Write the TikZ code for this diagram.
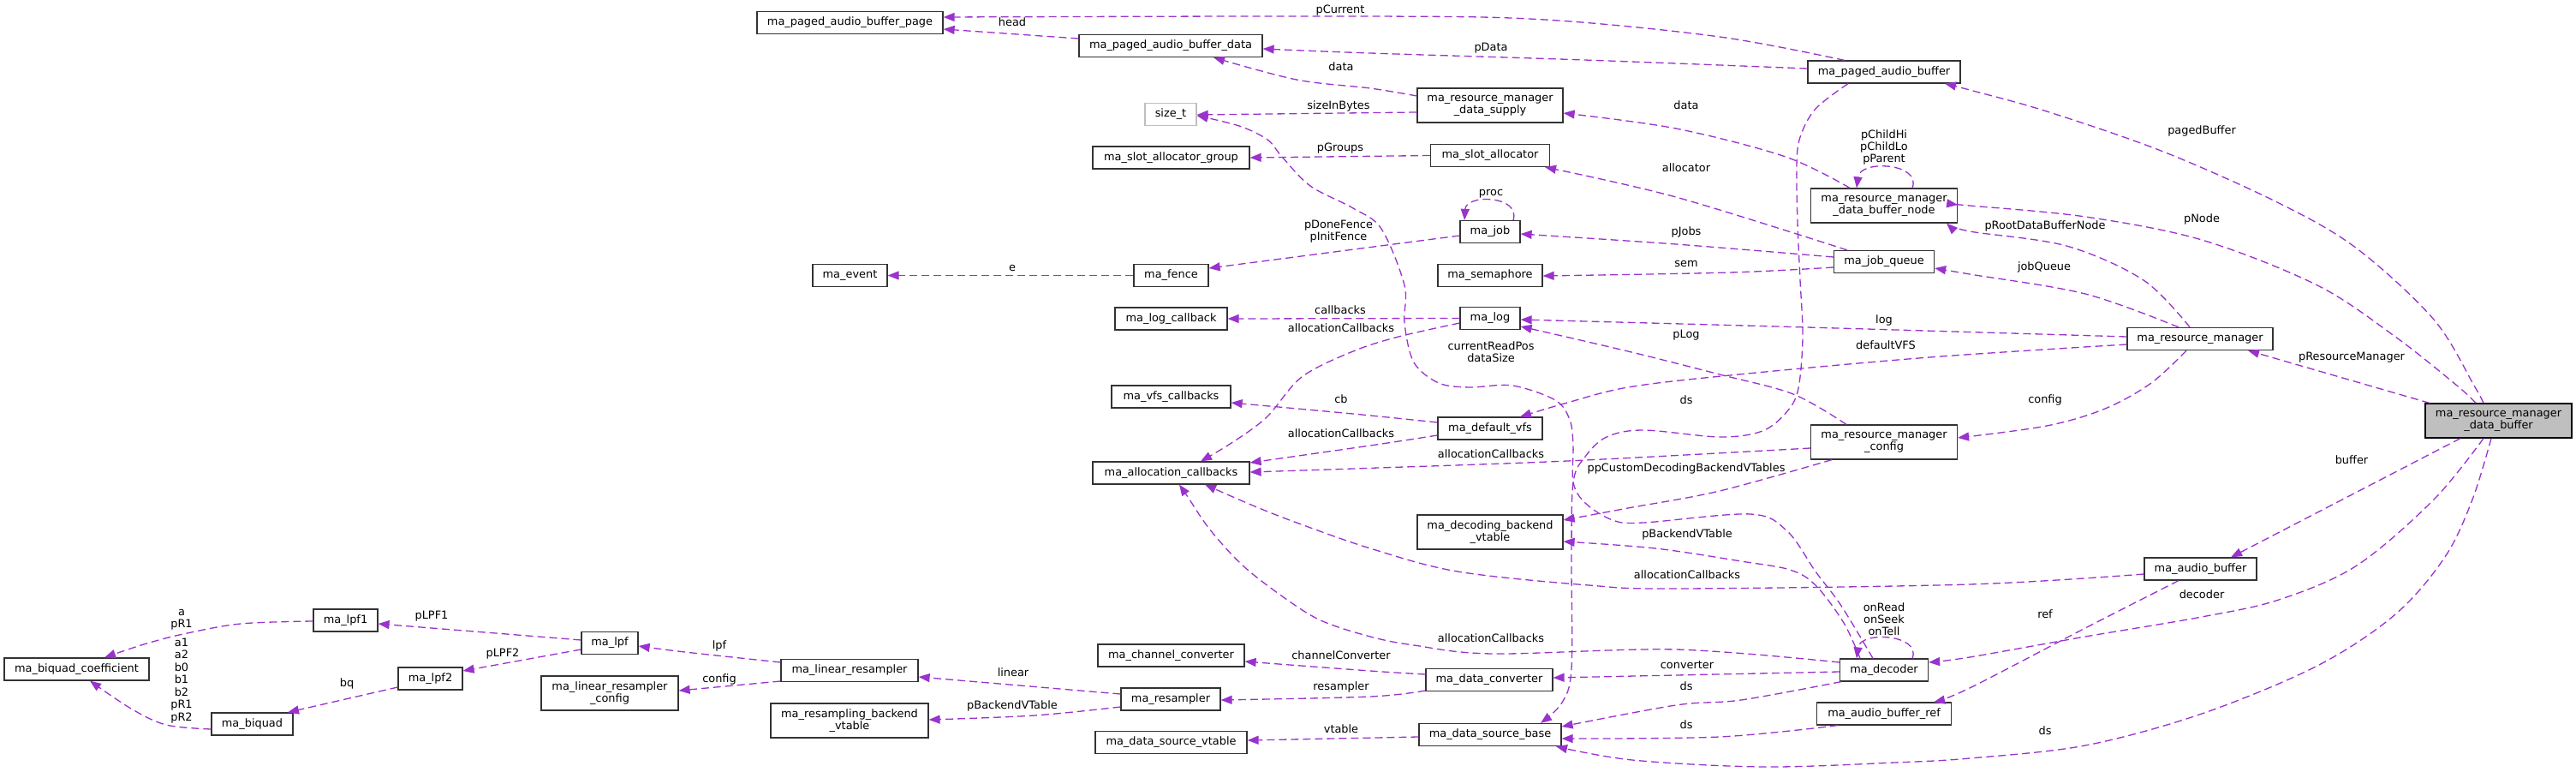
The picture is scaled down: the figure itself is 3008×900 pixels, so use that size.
\documentclass[tikz,border=0pt]{standalone}
\usepackage{fontspec}
\setmainfont{DejaVu Sans}
\usetikzlibrary{arrows.meta}
\definecolor{edgec}{HTML}{9A32CD}
\definecolor{nodeb}{HTML}{333333}
\definecolor{grayfill}{HTML}{BFBFBF}
\definecolor{lightb}{HTML}{BFBFBF}
\begin{document}
\begin{tikzpicture}[x=1pt,y=-1pt,
  font=\fontsize{12.9pt}{14pt}\selectfont,
  box/.style={draw=nodeb,line width=1.2pt,fill=white,inner sep=0pt,minimum height=26pt,text height=9.6pt,text depth=3pt},
  boxtwo/.style={draw=nodeb,line width=1.2pt,fill=white,inner sep=0pt,minimum height=40pt,align=center},
  lbl/.style={inner sep=0pt,text height=9.6pt,text depth=3pt},
  lblm/.style={inner sep=0pt,align=center},
  conn/.style={draw=edgec,line width=1.3pt,dash pattern=on 9pt off 5pt,-{Triangle[length=13pt,width=10pt]}},
  sm/.style={smooth,tension=0.55}]
\fill[white] (0,0) rectangle (3008,900);
\useasboundingbox (0,0) rectangle (3008,900);

% ---------- nodes ----------
\node[box,minimum width=217pt] (page) at (992.5,26.5) {ma\_paged\_audio\_buffer\_page};
\node[box,minimum width=214pt] (pdata) at (1367,53.5) {ma\_paged\_audio\_buffer\_data};
\node[box,minimum width=60pt,draw=lightb] (sizet) at (1367,133.5) {size\_t};
\node[box,minimum width=183pt] (slotgrp) at (1367.5,184) {ma\_slot\_allocator\_group};
\node[box,minimum width=87pt] (event) at (992.5,321.5) {ma\_event};
\node[box,minimum width=87pt] (fence) at (1367.5,321.5) {ma\_fence};
\node[box,minimum width=131pt] (logcb) at (1367.5,372) {ma\_log\_callback};
\node[box,minimum width=178pt] (pab) at (2200,84) {ma\_paged\_audio\_buffer};
\node[boxtwo,minimum width=170pt] (supply) at (1740,123) {ma\_resource\_manager\\\_data\_supply};
\node[box,minimum width=139pt] (slot) at (1740,181.5) {ma\_slot\_allocator};
\node[box,minimum width=70pt] (job) at (1740,270.5) {ma\_job};
\node[box,minimum width=122pt] (sem) at (1740,321.5) {ma\_semaphore};
\node[box,minimum width=70pt] (log) at (1740,371.5) {ma\_log};
\node[boxtwo,minimum width=171pt] (bnode) at (2200,240) {ma\_resource\_manager\\\_data\_buffer\_node};
\node[box,minimum width=117pt] (jq) at (2200,305.5) {ma\_job\_queue};
\node[box,minimum width=170pt] (rm) at (2569,395.5) {ma\_resource\_manager};
\node[boxtwo,minimum width=171pt,fill=grayfill,draw=black] (dbuf) at (2917.5,491) {ma\_resource\_manager\\\_data\_buffer};
\node[box,minimum width=131pt] (ab) at (2569.5,664) {ma\_audio\_buffer};
\node[box,minimum width=122pt] (dvfs) at (1740,500) {ma\_default\_vfs};
\node[boxtwo,minimum width=171pt] (rmcfg) at (2200,516) {ma\_resource\_manager\\\_config};
\node[boxtwo,minimum width=170pt] (dbv) at (1740,621) {ma\_decoding\_backend\\\_vtable};
\node[box,minimum width=103pt] (dec) at (2200,782) {ma\_decoder};
\node[box,minimum width=148pt] (dconv) at (1739,793.5) {ma\_data\_converter};
\node[box,minimum width=157pt] (abref) at (2200,833) {ma\_audio\_buffer\_ref};
\node[box,minimum width=166pt] (dsb) at (1740,857.5) {ma\_data\_source\_base};
\node[box,minimum width=139pt] (vfscb) at (1367.5,463) {ma\_vfs\_callbacks};
\node[box,minimum width=183pt] (alloc) at (1367.5,552) {ma\_allocation\_callbacks};
\node[box,minimum width=160pt] (linres) at (992,782.5) {ma\_linear\_resampler};
\node[boxtwo,minimum width=184pt] (rbv) at (992,841) {ma\_resampling\_backend\\\_vtable};
\node[box,minimum width=171pt] (chconv) at (1367.5,765) {ma\_channel\_converter};
\node[box,minimum width=116pt] (resamp) at (1367,816) {ma\_resampler};
\node[box,minimum width=177pt] (dsvt) at (1367.5,866.5) {ma\_data\_source\_vtable};
\node[box,minimum width=169pt] (bqc) at (89.5,781) {ma\_biquad\_coefficient};
\node[box,minimum width=75pt] (lpfa) at (403.5,724) {ma\_lpf1};
\node[box,minimum width=66pt] (lpf) at (712,750.5) {ma\_lpf};
\node[box,minimum width=75pt] (lpfb) at (502.5,792) {ma\_lpf2};
\node[box,minimum width=95pt] (bq) at (294.5,845) {ma\_biquad};
\node[boxtwo,minimum width=160pt] (lrcfg) at (712,809) {ma\_linear\_resampler\\\_config};

% ---------- labels ----------
\node[lbl] (l1) at (1565,12) {pCurrent};
\node[lbl] (l2) at (1182,27) {head};
\node[lbl] (l3) at (1741,56) {pData};
\node[lbl] (l4) at (1566,79) {data};
\node[lbl] (l5) at (1563,124) {sizeInBytes};
\node[lbl] (l6) at (1969,124) {data};
\node[lblm] (l7) at (2200,172) {pChildHi\\pChildLo\\pParent};
\node[lbl] (l8) at (1565,173) {pGroups};
\node[lbl] (l9) at (1969,197) {allocator};
\node[lbl] (l10) at (1741,225) {proc};
\node[lbl] (l11) at (2571,153) {pagedBuffer};
\node[lbl] (l12) at (2571,256) {pNode};
\node[lbl] (l13) at (2388,264) {pRootDataBufferNode};
\node[lblm] (l14) at (1563,270) {pDoneFence\\pInitFence};
\node[lbl] (l15) at (1969,271) {pJobs};
\node[lbl] (l16) at (1969,308) {sem};
\node[lbl] (l17) at (2387,312) {jobQueue};
\node[lbl] (l18) at (1182,313) {e};
\node[lbl] (l19) at (1565,363) {callbacks};
\node[lbl] (l20) at (2200,374) {log};
\node[lbl] (l21) at (1566,384) {allocationCallbacks};
\node[lbl] (l22) at (1969,391) {pLog};
\node[lblm] (l23) at (1741,410.5) {currentReadPos\\dataSize};
\node[lbl] (l24) at (2202,404) {defaultVFS};
\node[lbl] (l25) at (2746,417) {pResourceManager};
\node[lbl] (l26) at (1566,467) {cb};
\node[lbl] (l27) at (1969,468) {ds};
\node[lbl] (l28) at (2388,467) {config};
\node[lbl] (l29) at (1566,507) {allocationCallbacks};
\node[lbl] (l30) at (1741,531) {allocationCallbacks};
\node[lbl] (l31) at (2746,538) {buffer};
\node[lbl] (l32) at (1969,547) {ppCustomDecodingBackendVTables};
\node[lbl] (l33) at (1970,624) {pBackendVTable};
\node[lbl] (l34) at (1970,672) {allocationCallbacks};
\node[lbl] (l35) at (2571,695) {decoder};
\node[lblm] (l36) at (2200,722.5) {onRead\\onSeek\\onTell};
\node[lbl] (l37) at (2388,718) {ref};
\node[lbl] (l38) at (1741,746) {allocationCallbacks};
\node[lbl] (l39) at (840,754) {lpf};
\node[lbl] (l40) at (1566,766) {channelConverter};
\node[lbl] (l41) at (1970,777) {converter};
\node[lbl] (l42) at (1183,786) {linear};
\node[lbl] (l43) at (840,793) {config};
\node[lbl] (l44) at (1566,802) {resampler};
\node[lbl] (l45) at (1969,802) {ds};
\node[lbl] (l46) at (1182,824) {pBackendVTable};
\node[lbl] (l47) at (1969,847) {ds};
\node[lbl] (l48) at (1566,852) {vtable};
\node[lbl] (l49) at (2388,854) {ds};
\node[lblm] (l50) at (212,723.5) {a\\pR1};
\node[lblm,font=\fontsize{12.9pt}{14.5pt}\selectfont] (l51) at (212,794.5) {a1\\a2\\b0\\b1\\b2\\pR1\\pR2};
\node[lbl] (l52) at (504,719) {pLPF1};
\node[lbl] (l53) at (587,763) {pLPF2};
\node[lbl] (l54) at (405,798) {bq};

% ---------- connectors ----------
\draw[conn] plot[sm] coordinates {(2154,0 |- pab.north) (2008,43) (1804,23) (1600,19) (page.east |- 0,20)};
\draw[conn] (pdata.west |- 0,45) -- (page.east |- 0,34);
\draw[conn] plot[sm] coordinates {(pab.west |- 0,80) (1850,70) (1600,62) (pdata.east |- 0,57)};
\draw[conn] plot[sm] coordinates {(supply.west |- 0,112) (1600,103) (1514,93) (1417,0 |- pdata.south)};
\draw[conn] (supply.west |- 0,131) -- (sizet.east |- 0,134);
\draw[conn] plot[sm] coordinates {(2160,0 |- bnode.north) (2085,183) (1957,150) (supply.east |- 0,132)};
\draw[conn] (2233,0 |- bnode.north) .. controls (2244,190) and (2172,186) .. (2168,0 |- bnode.north);
\draw[conn] (slot.west) -- (slotgrp.east);
\draw[conn] plot[sm] coordinates {(2157,0 |- jq.north) (1957,230) (1804,0 |- slot.south)};
\draw[conn] (1767,0 |- job.north) .. controls (1776,228) and (1712,226) .. (1710,0 |- job.north);
\draw[conn] (job.west |- 0,275) -- (fence.east |- 0,313);
\draw[conn] (fence.west) -- (event.east);
\draw[conn] plot[sm] coordinates {(jq.west |- 0,300) (1957,285) (job.east |- 0,273)};
\draw[conn] plot[sm] coordinates {(jq.west |- 0,312) (2020,318) (sem.east |- 0,322)};
\draw[conn] (log.west) -- (logcb.east);
\draw[conn] plot[sm] coordinates {(log.west |- 0,377) (1633,393) (1580,410) (1520,440) (1479,487) (1438,517) (1402,0 |- alloc.north)};
\draw[conn] plot[sm] coordinates {(rm.west |- 0,393) (2110,382) (log.east |- 0,373)};
\draw[conn] plot[sm] coordinates {(2156,0 |- rmcfg.north) (2094,460) (2008,437) (1901,410) (log.east |- 0,381)};
\draw[conn] plot[sm] coordinates {(rm.west |- 0,402) (2253,417) (2020,438) (1901,452) (1830,470) (1775,0 |- dvfs.north)};
\draw[conn] plot[sm] coordinates {(dvfs.west |- 0,493) (1580,483) (vfscb.east |- 0,470)};
\draw[conn] plot[sm] coordinates {(dvfs.west |- 0,508) (1600,520) (alloc.east |- 0,540)};
\draw[conn] plot[sm] coordinates {(rmcfg.west |- 0,523) (1830,538) (1580,547) (alloc.east |- 0,551)};
\draw[conn] plot[sm] coordinates {(2139,0 |- rmcfg.south) (2008,573) (1901,593) (dbv.east |- 0,607)};
\draw[conn] plot[sm] coordinates {(2172,0 |- dec.north) (2153,727) (2120,683) (2090,665) (2033,655) (1933,640) (dbv.east |- 0,632)};
\draw[conn] plot[sm] coordinates {(dec.west |- 0,773) (1957,758) (1743,763) (1651,753) (1600,743) (1540,723) (1489,690) (1448,657) (1412,617) (1387,580) (1377,0 |- alloc.south)};
\draw[conn] plot[sm] coordinates {(ab.west |- 0,670) (2300,682) (1957,687) (1855,683) (1702,667) (1600,640) (1514,610) (1463,590) (1407,0 |- alloc.south)};
\draw[conn] plot[sm] coordinates {(2544,0 |- rm.north) (2435,343) (2300,320) (jq.east |- 0,313)};
\draw[conn] plot[sm] coordinates {(2557,0 |- rm.north) (2503,327) (2413,287) (2300,270) (2273,0 |- bnode.south)};
\draw[conn] plot[sm] coordinates {(2553,0 |- rm.south) (2512,447) (2458,477) (2390,497) (rmcfg.east |- 0,511)};
\draw[conn] plot[sm] coordinates {(2900,0 |- dbuf.north) (2889,450) (2842,373) (2752,290) (2661,237) (2526,177) (2390,130) (2300,105) (2271,0 |- pab.south)};
\draw[conn] plot[sm] coordinates {(2891,0 |- dbuf.north) (2869,450) (2797,393) (2706,333) (2571,280) (2435,253) (2300,240) (bnode.east |- 0,239)};
\draw[conn] (2837,0 |- dbuf.north) -- (2625,0 |- rm.south);
\draw[conn] (2873,0 |- dbuf.south) -- (2605,0 |- ab.north);
\draw[conn] plot[sm] coordinates {(2900,0 |- dbuf.south) (2842,583) (2752,660) (2661,700) (2571,720) (2435,743) (2300,767) (dec.east |- 0,773)};
\draw[conn] plot[sm] coordinates {(2909,0 |- dbuf.south) (2887,583) (2855,650) (2797,717) (2706,777) (2571,833) (2435,870) (2300,885) (2212,890) (2059,895) (1906,887) (1817,0 |- dsb.south)};
\draw[conn] plot[sm] coordinates {(2544,0 |- ab.south) (2435,733) (2300,803) (2258,0 |- abref.north)};
\draw[conn] plot[sm] coordinates {(2146,0 |- abref.south) (2008,860) (dsb.east |- 0,862)};
\draw[conn] plot[sm] coordinates {(2150,0 |- dec.south) (2033,817) (1957,823) (dsb.east |- 0,848)};
\draw[conn] (2233,0 |- dec.north) .. controls (2244,740) and (2172,736) .. (2168,0 |- dec.north);
\draw[conn] (dec.west |- 0,784) -- (dconv.east |- 0,791);
\draw[conn] plot[sm] coordinates {(2158,0 |- pab.south) (2120,127) (2102,160) (2098,193) (2099,260) (2102,327) (2105,393) (2100,453) (2087,480) (2058,503) (2008,510) (1919,502) (1876,510) (1851,533) (1837,563) (1835,650) (1835,780) (1824,820) (1799,0 |- dsb.north)};
\draw[conn] plot[sm] coordinates {(2187,0 |- dec.north) (2150,707) (2120,667) (2087,620) (2044,600) (1919,610) (1883,607) (1851,587) (1837,563) (1837,520) (1833,490) (1816,467) (1766,450) (1716,452) (1680,447) (1651,423) (1640,377) (1640,333) (1613,267) (1580,243) (1530,217) (1497,183) (1480,163) (1447,147) (sizet.east |- 0,135)};
\draw[conn] (lpf.west |- 0,747) -- (lpfa.east |- 0,728);
\draw[conn] (lpf.west |- 0,758) -- (lpfb.east |- 0,783);
\draw[conn] (lpfb.west |- 0,802) -- (336,0 |- bq.north);
\draw[conn] plot[sm] coordinates {(lpfa.west |- 0,725) (281,728) (214,740) (168,752) (122,0 |- bqc.north)};
\draw[conn] plot[sm] coordinates {(bq.west |- 0,851) (194,846) (153,827) (105,0 |- bqc.south)};
\draw[conn] plot[sm] coordinates {(linres.west |- 0,773) (800,761) (lpf.east |- 0,754)};
\draw[conn] (linres.west |- 0,795) -- (lrcfg.east |- 0,806);
\draw[conn] (resamp.west |- 0,810) -- (linres.east |- 0,790);
\draw[conn] plot[sm] coordinates {(resamp.west |- 0,825) (1208,835) (rbv.east |- 0,840)};
\draw[conn] plot[sm] coordinates {(dconv.west |- 0,787) (1600,783) (chconv.east |- 0,772)};
\draw[conn] plot[sm] coordinates {(dconv.west |- 0,806) (1600,813) (resamp.east |- 0,817)};
\draw[conn] (dsb.west |- 0,860) -- (dsvt.east |- 0,864);
\end{tikzpicture}
\end{document}
